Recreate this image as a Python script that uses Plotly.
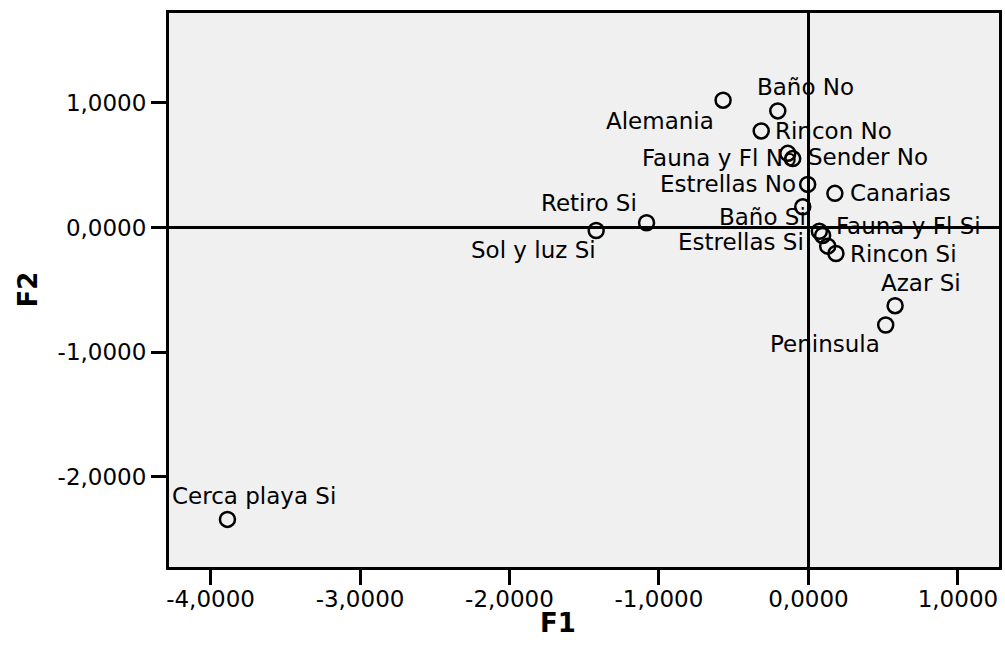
import plotly.graph_objects as go

# Category coordinates on the first two factors
categories = [
    "Alemania", "Baño No", "Rincon No", "Fauna y Fl No", "Sender No",
    "Estrellas No", "Canarias", "Baño Si", "Fauna y Fl Si", "",
    "Estrellas Si", "Rincon Si", "Azar Si", "Peninsula", "Retiro Si",
    "Sol y luz Si", "Cerca playa Si",
]
f1 = [-0.571, -0.205, -0.316, -0.138, -0.105, -0.005, 0.177, -0.038, 0.073,
      0.095, 0.129, 0.184, 0.580, 0.517, -1.083, -1.420, -3.887]
f2 = [1.022, 0.936, 0.775, 0.595, 0.553, 0.346, 0.274, 0.166, -0.030,
      -0.064, -0.150, -0.209, -0.628, -0.783, 0.038, -0.024, -2.344]

tick_vals_x = [-4, -3, -2, -1, 0, 1]
tick_text_x = ["-4,0000", "-3,0000", "-2,0000", "-1,0000", "0,0000", "1,0000"]
tick_vals_y = [-2, -1, 0, 1]
tick_text_y = ["-2,0000", "-1,0000", "0,0000", "1,0000"]

# Label placement: (anchor, x offset px, y offset px)
label_style = [
    ("right", -7, -21), ("left", -23, 24), ("left", 12, 0), ("right", 11, -5),
    ("left", 13, 2), ("right", -10, 0), ("left", 13, 0), ("right", 5, -10),
    ("left", 15, 5), ("left", 0, 0), ("right", -22, 4), ("left", 12, 0),
    ("left", -16, 23), ("right", -4, -19), ("right", -8, 20), ("right", 2, -20),
    ("left", -57, 23),
]

FONT = "DejaVu Sans"
W, H = 1005, 650
L, R, T, B = 169, 3, 13, 83

fig = go.Figure()
fig.add_trace(go.Scatter(
    x=f1, y=f2, mode="markers",
    marker=dict(symbol="circle-open", size=15, color="black",
                line=dict(width=2.5, color="black")),
    hoverinfo="text", text=categories, showlegend=False,
))

annotations = []
for name, x, y, (anchor, dx, dy) in zip(categories, f1, f2, label_style):
    if not name:
        continue
    annotations.append(dict(
        x=x, y=y, xref="x", yref="y", text=name, showarrow=False,
        xanchor=anchor, yanchor="middle", xshift=dx, yshift=dy,
        font=dict(family=FONT, size=23, color="black"),
    ))

plot_w = W - L - R
plot_h = H - T - B
annotations.append(dict(
    x=(559 - L) / plot_w, y=(H - B - 623) / plot_h, xref="paper", yref="paper",
    text="<b>F1</b>", showarrow=False, xanchor="center", yanchor="middle",
    font=dict(family=FONT, size=26, color="black"),
))
annotations.append(dict(
    x=(27 - L) / plot_w, y=0.5, xref="paper", yref="paper",
    text="<b>F2</b>", showarrow=False, xanchor="center", yanchor="middle",
    textangle=-90, font=dict(family=FONT, size=26, color="black"),
))

axis_common = dict(
    showgrid=False, zeroline=True, zerolinecolor="black", zerolinewidth=2.5,
    showline=True, linecolor="black", linewidth=3, mirror=True,
    ticks="outside", ticklen=15, tickwidth=3, tickcolor="black",
    tickfont=dict(family=FONT, size=23, color="black"),
)

fig.update_layout(
    width=W, height=H,
    margin=dict(l=L, r=R, t=T, b=B, pad=0),
    paper_bgcolor="white", plot_bgcolor="#f0f0f0",
    xaxis=dict(range=[-4.278, 1.275], tickvals=tick_vals_x, ticktext=tick_text_x,
               ticklabelstandoff=-6, **axis_common),
    yaxis=dict(range=[-2.726, 1.722], tickvals=tick_vals_y, ticktext=tick_text_y,
               **axis_common),
    annotations=annotations,
)

fig.write_html("out.html")
